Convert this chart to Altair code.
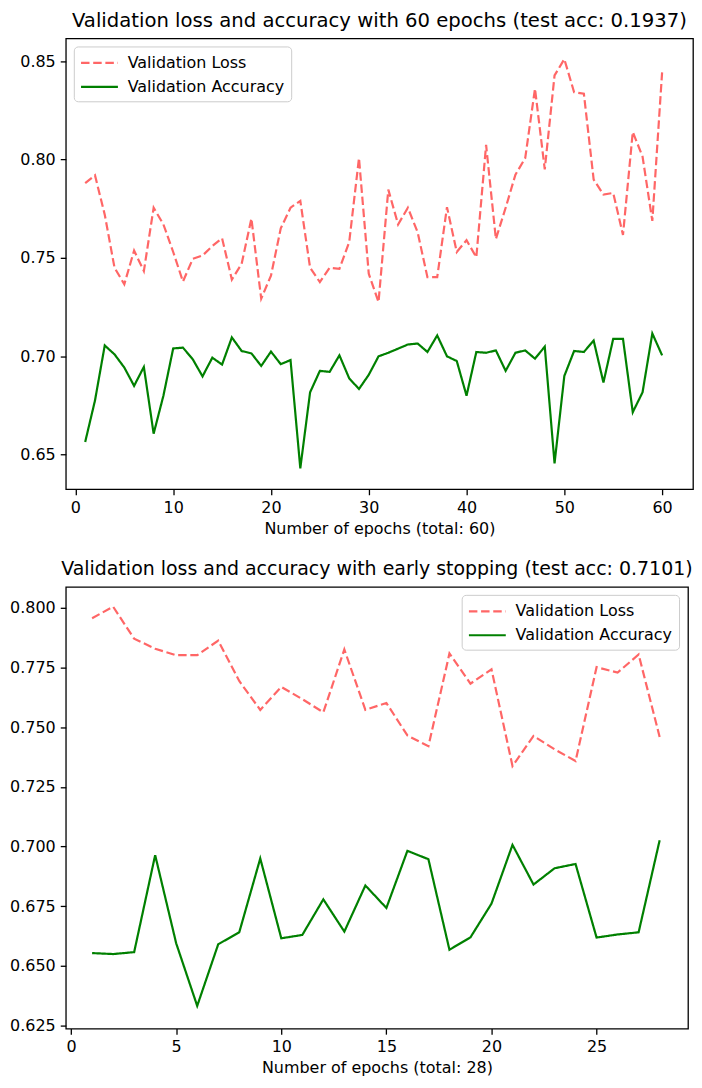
import altair as alt
import pandas as pd

# ---- data: run 1 (60 epochs) ----
epochs_60 = list(range(1, 61))
loss_60 = [0.788, 0.792, 0.772, 0.745, 0.7366, 0.7537, 0.7433, 0.7755, 0.767, 0.753,
           0.738, 0.7495, 0.7512, 0.756, 0.760, 0.739, 0.747, 0.770, 0.7293, 0.741,
           0.765, 0.7755, 0.779, 0.745, 0.7377, 0.745, 0.7445, 0.758, 0.8007, 0.742,
           0.7276, 0.7847, 0.767, 0.7755, 0.763, 0.7402, 0.7402, 0.7758, 0.753, 0.759,
           0.7503, 0.8074, 0.7596, 0.7755, 0.7923, 0.8007, 0.836, 0.795, 0.8427, 0.851,
           0.8342, 0.8334, 0.7898, 0.7822, 0.783, 0.7617, 0.814, 0.8015, 0.7688, 0.8443]
acc_60 = [0.6565, 0.6775, 0.7055, 0.701, 0.6943, 0.685, 0.6946, 0.6607, 0.680, 0.704,
          0.7044, 0.6985, 0.6898, 0.6993, 0.6958, 0.7096, 0.7027, 0.7015, 0.6951, 0.7024,
          0.696, 0.6981, 0.6431, 0.6817, 0.6926, 0.6921, 0.7005, 0.6888, 0.6834, 0.6906,
          0.700, 0.7018, 0.7039, 0.706, 0.7065, 0.7022, 0.7106, 0.700, 0.6976, 0.680,
          0.7022, 0.7018, 0.703, 0.6926, 0.7018, 0.703, 0.6988, 0.7049, 0.6456, 0.690,
          0.7027, 0.7022, 0.708, 0.6867, 0.7089, 0.7089, 0.6716, 0.6817, 0.7116, 0.7005]

# ---- data: run 2 (early stopping, 28 epochs) ----
epochs_28 = list(range(1, 29))
loss_28 = [0.7956, 0.8004, 0.787, 0.7828, 0.7801, 0.7801, 0.7862, 0.7693, 0.7572, 0.7668,
           0.7617, 0.7562, 0.7825, 0.7572, 0.7601, 0.7465, 0.742, 0.7808, 0.7682, 0.7742,
           0.7337, 0.7463, 0.7407, 0.7358, 0.7751, 0.7728, 0.7804, 0.7459]
acc_28 = [0.6554, 0.655, 0.6558, 0.6964, 0.6595, 0.6333, 0.6591, 0.6641, 0.695, 0.6616,
          0.663, 0.6779, 0.6644, 0.6837, 0.6743, 0.6982, 0.6947, 0.6568, 0.662, 0.6761,
          0.7007, 0.6841, 0.6909, 0.6927, 0.6619, 0.6632, 0.6641, 0.7026]

series_names = ["Validation Loss", "Validation Accuracy"]
series_colors = ["#ff6666", "#008000"]
series_dashes = [[8.5, 3.7], [1, 0]]

FONT = "DejaVu Sans"
FS = 16


def long_df(epochs, loss, acc):
    return pd.DataFrame({
        "epoch": epochs * 2,
        "value": loss + acc,
        "series": [series_names[0]] * len(epochs) + [series_names[1]] * len(epochs),
    })


def panel(df, title, tfs, xtitle, xdom, xticks, ydom, yticks, yfmt, w, h, lx, ly):
    leg = alt.Legend(
        title=None, orient="none", legendX=lx, legendY=ly,
        symbolType="M-1,0H3", symbolSize=342, symbolStrokeWidth=2.2,
        labelFont=FONT, labelFontSize=FS, labelColor="black",
        labelOffset=27, rowPadding=5, padding=6,
        strokeColor="#cccccc", fillColor="white", cornerRadius=4,
    )
    return alt.Chart(df).mark_line(strokeWidth=2.2).encode(
        x=alt.X("epoch:Q", scale=alt.Scale(domain=xdom, nice=False, zero=False),
                axis=alt.Axis(title=xtitle, values=xticks, format="d", labelPadding=4.5,
                              titlePadding=5)),
        y=alt.Y("value:Q", scale=alt.Scale(domain=ydom, nice=False, zero=False),
                axis=alt.Axis(title=None, values=yticks, format=yfmt, labelPadding=5)),
        color=alt.Color("series:N", scale=alt.Scale(domain=series_names, range=series_colors), legend=leg),
        strokeDash=alt.StrokeDash("series:N", scale=alt.Scale(domain=series_names, range=series_dashes), legend=leg),
        order=alt.Order("epoch:Q"),
    ).properties(
        width=w, height=h,
        title=alt.TitleParams(title, font=FONT, fontSize=tfs, fontWeight="normal", color="black",
                              anchor="middle", offset=8),
    )


top = panel(long_df(epochs_60, loss_60, acc_60),
            "Validation loss and accuracy with 60 epochs (test acc: 0.1937)", 19.7,
            "Number of epochs (total: 60)",
            [-0.98, 63.16], [0, 10, 20, 30, 40, 50, 60],
            [0.6325, 0.8615], [0.65, 0.70, 0.75, 0.80, 0.85], ".2f",
            629, 452, 8, 8)

bottom = panel(long_df(epochs_28, loss_28, acc_28),
               "Validation loss and accuracy with early stopping (test acc: 0.7101)", 19.0,
               "Number of epochs (total: 28)",
               [-0.25, 29.35], [0, 5, 10, 15, 20, 25],
               [0.6238, 0.8087], [0.625, 0.650, 0.675, 0.700, 0.725, 0.750, 0.775, 0.800], ".3f",
               624, 443, 397, 8)

chart = alt.vconcat(top, bottom, spacing=22).resolve_scale(
    color="independent", strokeDash="independent", x="independent", y="independent"
).resolve_legend(color="independent", strokeDash="independent").properties(
    padding={"left": 0, "top": 0, "right": 0, "bottom": 0}
).configure(
    font=FONT,
).configure_view(
    stroke="black", strokeWidth=1.3
).configure_axis(
    grid=False, domain=False, tickColor="black", tickSize=5.6, tickWidth=1.3,
    labelFont=FONT, labelFontSize=FS, labelColor="black",
    titleFont=FONT, titleFontSize=FS, titleFontWeight="normal", titleColor="black",
)

chart.save("out.html", embed_options={"renderer": "svg", "actions": False})
